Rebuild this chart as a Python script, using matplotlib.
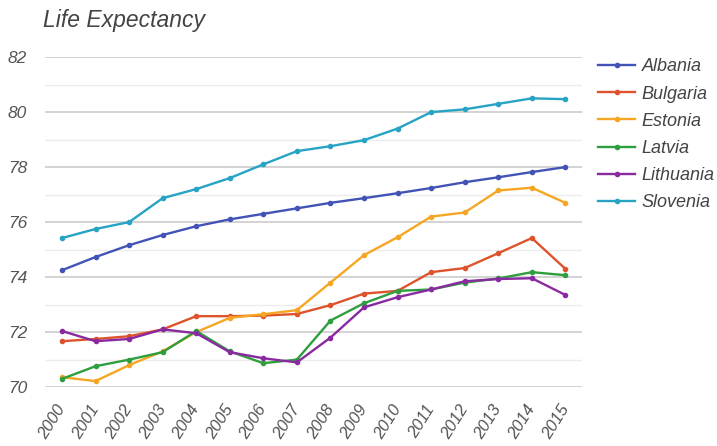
import matplotlib
matplotlib.use("Agg")
import matplotlib.pyplot as plt
from matplotlib.ticker import MultipleLocator

plt.rcParams["font.family"] = ["Liberation Sans", "DejaVu Sans"]

years = [str(y) for y in range(2000, 2016)]

albania = [74.25, 74.73, 75.16, 75.53, 75.85, 76.10, 76.30, 76.50, 76.70, 76.87,
           77.05, 77.24, 77.45, 77.63, 77.82, 78.00]
bulgaria = [71.67, 71.75, 71.85, 72.10, 72.58, 72.58, 72.60, 72.66, 72.98, 73.40,
            73.50, 74.18, 74.33, 74.87, 75.42, 74.30]
estonia = [70.36, 70.22, 70.80, 71.30, 72.00, 72.52, 72.65, 72.80, 73.80, 74.80,
           75.45, 76.20, 76.35, 77.15, 77.25, 76.70]
latvia = [70.30, 70.76, 71.00, 71.27, 72.04, 71.30, 70.87, 71.00, 72.42, 73.05,
          73.50, 73.55, 73.80, 73.95, 74.18, 74.07]
lithuania = [72.04, 71.67, 71.75, 72.10, 71.96, 71.27, 71.05, 70.90, 71.80, 72.90,
             73.27, 73.55, 73.85, 73.93, 73.96, 73.35]
slovenia = [75.42, 75.75, 76.00, 76.87, 77.20, 77.60, 78.10, 78.58, 78.76, 78.98,
            79.40, 80.00, 80.10, 80.30, 80.50, 80.47]

countries = ["Albania", "Bulgaria", "Estonia", "Latvia", "Lithuania", "Slovenia"]
series = [albania, bulgaria, estonia, latvia, lithuania, slovenia]
colors = ["#4253b6", "#df532c", "#f5a623", "#2e9e3e", "#8a2aa0", "#27a3c4"]

fig = plt.figure(figsize=(7.17, 4.46), dpi=100)
ax = fig.add_axes([0.063, 0.132, 0.749, 0.740])

x = list(range(len(years)))
for name, vals, col in zip(countries, series, colors):
    ax.plot(x, vals, color=col, lw=1.7, marker="o", ms=3, label=name,
            solid_joinstyle="round")

ax.set_xlim(-0.5, 15.5)
ax.set_ylim(70, 82)
ax.yaxis.set_major_locator(MultipleLocator(2))
ax.yaxis.set_minor_locator(MultipleLocator(1))
ax.grid(which="major", axis="y", color="#d0d0d0", lw=1.3)
ax.grid(which="minor", axis="y", color="#ececec", lw=1.0)
ax.set_axisbelow(True)
for s in ax.spines.values():
    s.set_visible(False)

ax.set_xticks(x)
ax.set_xticklabels(years, rotation=58, ha="right", va="center",
                   rotation_mode="anchor", fontsize=12, fontstyle="italic",
                   color="#555555")
ax.tick_params(axis="both", which="both", length=0)
ax.tick_params(axis="x", pad=14)
ax.tick_params(axis="y", pad=13, labelsize=12.5, labelcolor="#555555")
for lab in ax.get_yticklabels():
    lab.set_fontstyle("italic")

fig.text(0.06, 0.953, "Life Expectancy", fontsize=16.5, fontstyle="italic",
         color="#444444", va="center", ha="left")

leg = ax.legend(loc="upper left", bbox_to_anchor=(1.0, 1.045), frameon=False,
                handlelength=2.0, handletextpad=0.4, labelspacing=0.56,
                prop={"size": 13, "style": "italic"})
for t in leg.get_texts():
    t.set_color("#444444")

fig.savefig("out.png", dpi=100, facecolor="white")
